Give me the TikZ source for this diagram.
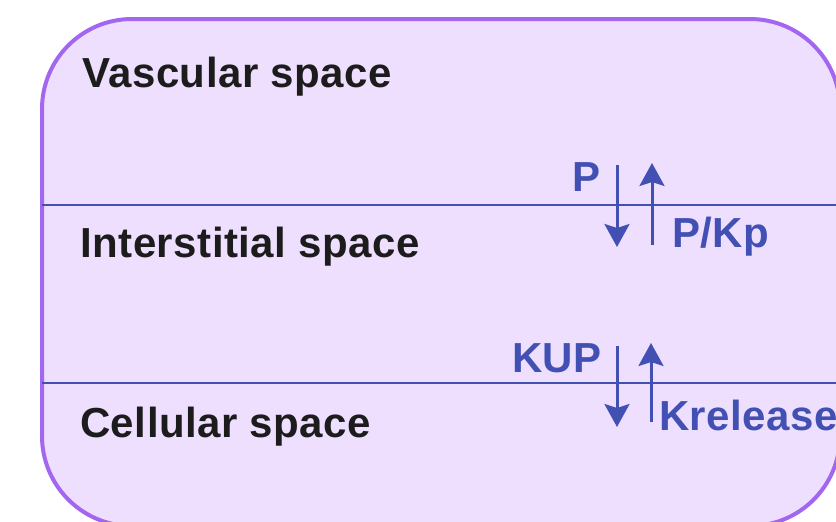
\documentclass[tikz,border=0pt]{standalone}
\usepackage{fontspec}
\setmainfont{Liberation Sans}
\newfontfamily\spacefont[LetterSpace=1.2]{Liberation Sans}
\usetikzlibrary{arrows.meta}
\definecolor{spacefill}{HTML}{EEDFFF}
\definecolor{spaceedge}{HTML}{A366F0}
\definecolor{flux}{HTML}{4350B3}
\definecolor{ink}{HTML}{1C1C1C}
\begin{document}
\begin{tikzpicture}
	[x=1pt,y=-1pt,
	space/.style={anchor=base west,inner sep=0,text=ink,font=\spacefont\fontsize{42}{50}\selectfont\bfseries},
	rate/.style={anchor=base west,inner sep=0,text=flux,font=\spacefont\fontsize{42}{50}\selectfont\bfseries},
	wall/.style={flux,line width=2.5pt},
	flow/.style={->,flux,line width=3pt},
	>={Stealth[length=23pt,width=25pt,inset=4pt]}]
	\useasboundingbox (0,0) rectangle (836,522);
	\clip (0,0) rectangle (836,522);
	\draw[fill=spacefill,draw=spaceedge,line width=4pt,rounded corners=90pt] (42,19) rectangle (840,526);
	% membranes
	\coordinate (w1a) at (42,205); \coordinate (w1b) at (840,205);
	\coordinate (w2a) at (42,383); \coordinate (w2b) at (840,383);
	\draw[wall] (w1a) -- (w1b);
	\draw[wall] (w2a) -- (w2b);
	% compartments
	\node[space,name=vascular]at(82,87){Vascular space};
	\node[space,name=interstitial]at(80,257){Interstitial space};
	\node[space,name=cellular]at(80,437){Cellular space};
	% exchange
	\node[rate,name=P]at(572,191){P};
	\node[rate,name=PKp]at(672,247){P/Kp};
	\node[rate,name=KUP]at(512,372){KUP};
	\node[rate,name=Krelease]at(659,430){Krelease};
	\coordinate (d1a) at (617,165); \coordinate (d1b) at (617,247);
	\coordinate (u1a) at (652,245); \coordinate (u1b) at (652,163);
	\coordinate (d2a) at (617,346); \coordinate (d2b) at (617,427);
	\coordinate (u2a) at (651,422); \coordinate (u2b) at (651,343);
	\draw[flow](d1a) -- (d1b);
	\draw[flow](u1a) -- (u1b);
	\draw[flow](d2a) -- (d2b);
	\draw[flow](u2a) -- (u2b);
\end{tikzpicture}
\end{document}
